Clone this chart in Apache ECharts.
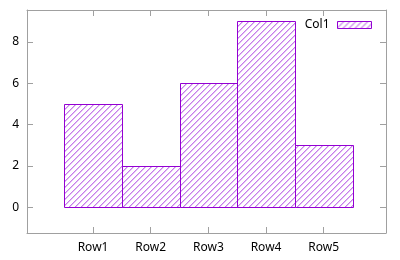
<!DOCTYPE html>
<html><head><meta charset="utf-8">
<script src="https://cdn.jsdelivr.net/npm/echarts@6/dist/echarts.min.js"></script>
<style>html,body{margin:0;padding:0;background:#fff}#c{width:400px;height:260px}</style>
</head><body><div id="c"></div>
<script>
const categories = ['Row1','Row2','Row3','Row4','Row5'];
const values = [5, 2, 6, 9, 3];
const yTicks = [0, 2, 4, 6, 8];
const seriesName = 'Col1';

const purple = '#9400d3';
const FONT = 'Noto Sans';

function makePattern(){
  const s = 6;
  const cv = document.createElement('canvas');
  cv.width = s; cv.height = s;
  const g = cv.getContext('2d');
  g.fillStyle = '#ffffff';
  g.fillRect(0,0,s,s);
  for (let i = 0; i < s; i++) {
    g.fillStyle = 'rgba(160,40,220,0.6)';
    g.fillRect(i, s-1-i, 1, 1);
    g.fillStyle = 'rgba(160,40,220,0.3)';
    g.fillRect(i, (s-i)%s, 1, 1);
  }
  return cv;
}
const pat = {image: makePattern(), repeat: 'repeat'};

const xIdx = categories.map((c,i)=>i);
const axisColor = '#a0a0a0';

function xAx(pos, labels){
  return {
    type: 'value', min: -1.145, max: 5.08, position: pos,
    splitLine: {show: false},
    axisLine: {show: true, onZero: false, lineStyle: {color: axisColor}},
    axisTick: {show: true, inside: true, length: 6, customValues: xIdx, lineStyle: {color: axisColor}},
    axisLabel: labels ? {customValues: xIdx, formatter: v => categories[Math.round(v)], margin: 9,
      fontFamily: FONT, fontSize: 12, color: '#000'} : {show: false}
  };
}
function yAx(pos, labels){
  return {
    type: 'value', min: -1.25, max: 9.55, position: pos,
    splitLine: {show: false},
    axisLine: {show: true, onZero: false, lineStyle: {color: axisColor}},
    axisTick: {show: true, inside: true, length: 6, customValues: yTicks, lineStyle: {color: axisColor}},
    axisLabel: labels ? {customValues: yTicks, margin: 8, fontFamily: FONT, fontSize: 12, color: '#000'} : {show: false}
  };
}

const chart = echarts.init(document.getElementById('c'), null, {renderer:'canvas'});
chart.setOption({
  animation: false,
  grid: {left: 27, right: 14, top: 10, bottom: 27},
  legend: {
    data: [{name: seriesName, icon: 'rect', itemStyle: {color: pat, borderColor: purple, borderWidth: 1}}],
    align: 'right', right: 28, top: 19, padding: 0,
    itemWidth: 34, itemHeight: 7, itemGap: 0,
    textStyle: {fontFamily: FONT, fontSize: 12, color: '#000', padding: [0, 3, 0, 0]}
  },
  xAxis: [xAx('bottom', true), xAx('top', false)],
  yAxis: [yAx('left', true), yAx('right', false)],
  series: [{
    name: seriesName,
    type: 'custom',
    xAxisIndex: 0, yAxisIndex: 0,
    itemStyle: {color: pat, borderColor: purple},
    data: values.map((v,i)=>[i, v]),
    renderItem: function(params, api){
      const x = api.value(0), y = api.value(1);
      const p0 = api.coord([x-0.5, y]);
      const p1 = api.coord([x+0.5, 0]);
      return {
        type: 'rect',
        shape: {x: Math.round(p0[0])+0.5, y: Math.round(p0[1])+0.5, width: Math.round(p1[0]-p0[0]), height: Math.round(p1[1]-p0[1])},
        style: {fill: pat, stroke: purple, lineWidth: 1}
      };
    }
  }]
});
</script></body></html>
